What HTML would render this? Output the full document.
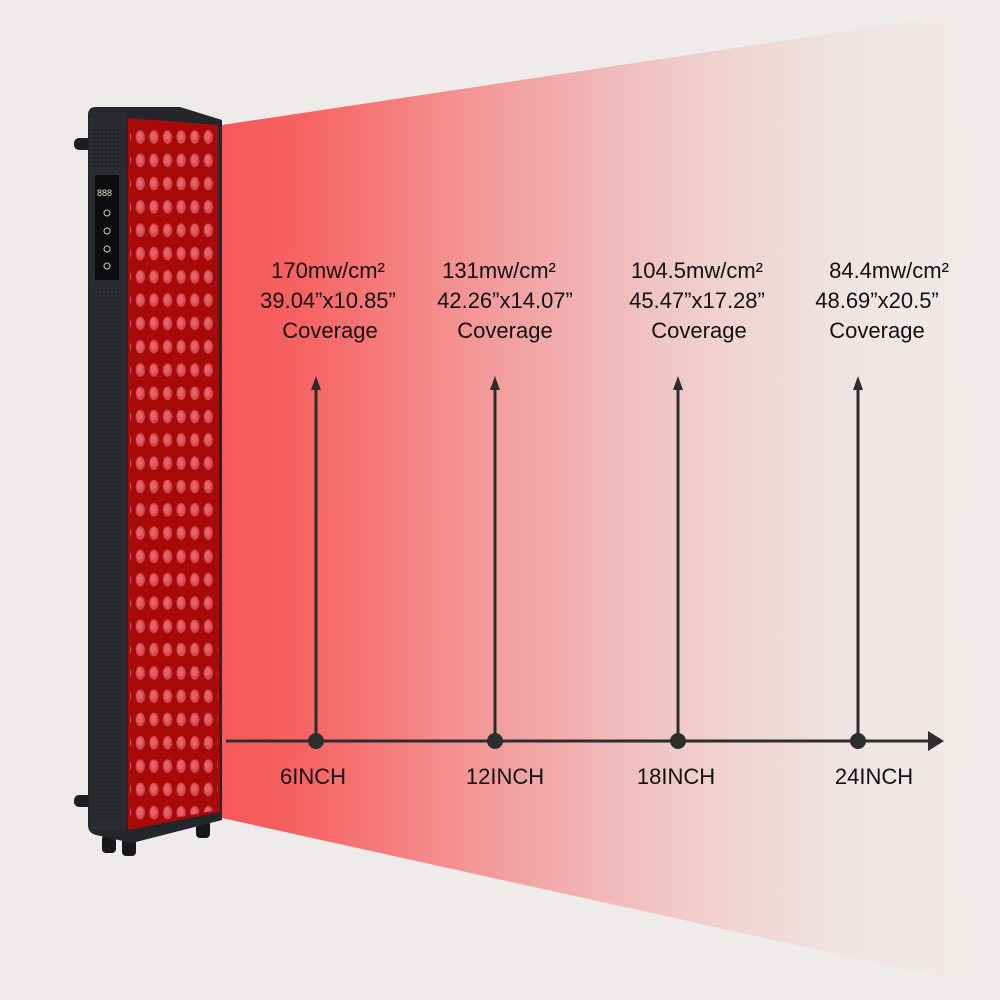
<!DOCTYPE html>
<html><head><meta charset="utf-8"><style>
html,body{margin:0;padding:0;background:#efebea;}
svg{display:block}
text{font-family:"Liberation Sans",Arial,sans-serif;font-size:22px;fill:#111;}
</style></head><body>
<svg width="1000" height="1000" viewBox="0 0 1000 1000" xmlns="http://www.w3.org/2000/svg">
<defs>
<linearGradient id="beam" x1="222" y1="0" x2="1000" y2="0" gradientUnits="userSpaceOnUse">
<stop offset="0" stop-color="#f65858"/>
<stop offset="0.1" stop-color="#f76262"/>
<stop offset="0.35" stop-color="#f39c9c"/>
<stop offset="0.6" stop-color="#f0cccc"/>
<stop offset="0.8" stop-color="#efe4e3"/>
<stop offset="1" stop-color="#efebea"/>
</linearGradient>
<pattern id="leds" x="133.5" y="127" width="13.6" height="23.3" patternUnits="userSpaceOnUse">
<ellipse cx="6.8" cy="10" rx="4.6" ry="6.8" fill="#d94a52"/>
<ellipse cx="6.2" cy="9" rx="2.8" ry="4.3" fill="#e2646a"/>
</pattern>
<pattern id="holes" width="4" height="4" patternUnits="userSpaceOnUse">
<circle cx="2" cy="2" r="0.9" fill="#111"/>
</pattern>
</defs>
<rect width="1000" height="1000" fill="#efebea"/>
<polygon points="222,125 1000,8 1000,990 222,818" fill="url(#beam)"/>
<rect x="74" y="138" width="20" height="12" rx="5" fill="#1c1d22"/>
<rect x="74" y="795" width="20" height="12" rx="5" fill="#1c1d22"/>
<rect x="102" y="835" width="14" height="18" rx="4" fill="#17181c"/>
<rect x="122" y="838" width="14" height="18" rx="4" fill="#17181c"/>
<rect x="196" y="820" width="14" height="18" rx="4" fill="#17181c"/>
<path d="M96,107 L180,107 L222,120 L222,820 L132,843 L96,835 Q88,833 88,825 L88,115 Q88,107 96,107 Z" fill="#24262c"/>
<rect x="90" y="112" width="36" height="718" fill="#2a2c32"/>
<rect x="92" y="128" width="30" height="40" fill="url(#holes)" opacity="0.7"/>
<rect x="92" y="290" width="30" height="530" fill="url(#holes)" opacity="0.5"/>
<rect x="95" y="175" width="24" height="105" rx="2" fill="#0c0c0e"/>
<text x="97" y="196" style="font-size:9px;fill:#e8e0c8">888</text>
<circle cx="107" cy="213" r="3" fill="none" stroke="#ccc" stroke-width="1"/>
<circle cx="107" cy="231" r="3" fill="none" stroke="#ccc" stroke-width="1"/>
<circle cx="107" cy="249" r="3" fill="none" stroke="#ccc" stroke-width="1"/>
<circle cx="107" cy="266" r="3" fill="none" stroke="#ccc" stroke-width="1"/>
<path d="M128,118 L218,125 L220,812 L128,830 Z" fill="#a80a0a"/>
<path d="M130,122 L217,127 L218,810 L130,826 Z" fill="url(#leds)"/>
<g stroke="#2d2d2d" stroke-width="3" fill="#2d2d2d">
<line x1="226" y1="741" x2="932" y2="741"/>
<line x1="316" y1="741" x2="316" y2="388"/>
<line x1="495" y1="741" x2="495" y2="388"/>
<line x1="678" y1="741" x2="678" y2="388"/>
<line x1="858" y1="741" x2="858" y2="388"/>
</g>
<g fill="#2d2d2d">
<polygon points="928,731 944,741 928,751"/>
<polygon points="311,390 316,376 321,390"/>
<polygon points="490,390 495,376 500,390"/>
<polygon points="673,390 678,376 683,390"/>
<polygon points="853,390 858,376 863,390"/>
<circle cx="316" cy="741" r="8"/>
<circle cx="495" cy="741" r="8"/>
<circle cx="678" cy="741" r="8"/>
<circle cx="858" cy="741" r="8"/>
</g>
<g text-anchor="middle">
<text x="328" y="278">170mw/cm²</text>
<text x="328" y="308">39.04”x10.85”</text>
<text x="330" y="338">Coverage</text>
<text x="499" y="278">131mw/cm²</text>
<text x="505" y="308">42.26”x14.07”</text>
<text x="505" y="338">Coverage</text>
<text x="697" y="278">104.5mw/cm²</text>
<text x="697" y="308">45.47”x17.28”</text>
<text x="699" y="338">Coverage</text>
<text x="889" y="278">84.4mw/cm²</text>
<text x="877" y="308">48.69”x20.5”</text>
<text x="877" y="338">Coverage</text>
<text x="313" y="784">6INCH</text>
<text x="505" y="784">12INCH</text>
<text x="676" y="784">18INCH</text>
<text x="874" y="784">24INCH</text>
</g>
</svg>
</body></html>
